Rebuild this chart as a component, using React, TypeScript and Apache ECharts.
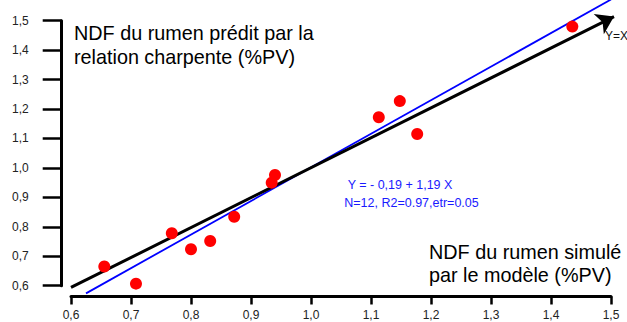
import React, { useEffect, useRef } from "react";
import * as echarts from "echarts";

const xSimulated = [0.6555, 0.7083, 0.768, 0.8, 0.832, 0.872, 0.9345, 0.94, 1.113, 1.148, 1.177, 1.4355];
const yPredicted = [0.665, 0.607, 0.778, 0.724, 0.752, 0.834, 0.95, 0.976, 1.172, 1.227, 1.115, 1.48];
const regressionX = [0.625, 1.5];
const regressionY = [0.574, 1.572];
const identityStart = [0.6, 0.594];
const identityEnd = [1.505, 1.514];
const axisMin = 0.6;
const axisMax = 1.5;
const axisStep = 0.1;
const titleLines = ["NDF du rumen prédit par la", "relation charpente (%PV)"];
const xTitleLines = ["NDF du rumen simulé", "par le modèle (%PV)"];
const equationText = "Y = - 0,19 + 1,19 X";
const statsText = "N=12, R2=0.97,etr=0.05";
const identityText = "Y=X";

const FONT = 'Arial, "Liberation Sans", sans-serif';

export default function App() {
  const ref = useRef<HTMLDivElement>(null);
  useEffect(() => {
    if (!ref.current) return;
    const chart = echarts.init(ref.current, undefined, { renderer: "svg" });
    const fmt = (v: number) => v.toFixed(1).replace(".", ",");
    chart.setOption({
      animation: false,
      backgroundColor: "#ffffff",
      grid: { left: 71, right: 16, top: 20.7, bottom: 36.3, containLabel: false },
      xAxis: {
        type: "value",
        min: axisMin,
        max: axisMax,
        interval: axisStep,
        offset: 10.8,
        axisLine: { show: true, lineStyle: { color: "#000", width: 3 } },
        axisTick: { show: true, length: 8, lineStyle: { color: "#000", width: 2.5 } },
        axisLabel: { margin: 12, color: "#222", fontSize: 12, fontFamily: FONT, formatter: fmt },
        splitLine: { show: false },
      },
      yAxis: {
        type: "value",
        min: axisMin,
        max: axisMax,
        interval: axisStep,
        offset: 9.3,
        axisLine: { show: true, lineStyle: { color: "#000", width: 3 } },
        axisTick: { show: true, length: 19, lineStyle: { color: "#000", width: 2.5 } },
        axisLabel: { margin: 33, color: "#222", fontSize: 12, fontFamily: FONT, formatter: fmt },
        splitLine: { show: false },
      },
      series: [
        {
          type: "line",
          data: regressionX.map((x, i) => [x, regressionY[i]]),
          symbol: "none",
          clip: false,
          lineStyle: { color: "#0000ff", width: 1.8 },
          z: 2,
        },
        {
          type: "lines",
          coordinateSystem: "cartesian2d",
          clip: false,
          silent: true,
          symbol: ["none", "arrow"],
          symbolSize: 17,
          lineStyle: { color: "#000", width: 3, opacity: 1, curveness: 0 },
          data: [{ coords: [identityStart, identityEnd] }],
          z: 3,
        },
        {
          type: "scatter",
          data: xSimulated.map((x, i) => [x, yPredicted[i]]),
          symbol: "circle",
          symbolSize: 12,
          clip: false,
          itemStyle: { color: "#ff0000", opacity: 1 },
          z: 4,
        },
      ],
      graphic: [
        {
          type: "text",
          x: 74,
          y: 45,
          style: {
            text: titleLines.join("\n"),
            font: `19.8px ${FONT}`,
            fill: "#000",
            lineHeight: 23.5,
            align: "left",
            verticalAlign: "middle",
          },
        },
        {
          type: "text",
          x: 429,
          y: 263.4,
          style: {
            text: xTitleLines.join("\n"),
            font: `19.8px ${FONT}`,
            fill: "#000",
            lineHeight: 23.3,
            align: "left",
            verticalAlign: "middle",
          },
        },
        {
          type: "text",
          x: 400,
          y: 185,
          style: { text: equationText, font: `12.5px ${FONT}`, fill: "#1a1aff", align: "center", verticalAlign: "middle" },
        },
        {
          type: "text",
          x: 411.5,
          y: 203,
          style: { text: statsText, font: `12.5px ${FONT}`, fill: "#1a1aff", align: "center", verticalAlign: "middle" },
        },
        {
          type: "text",
          x: 605,
          y: 36,
          style: { text: identityText, font: `12px ${FONT}`, fill: "#111", align: "left", verticalAlign: "middle" },
        },
      ],
    });
    return () => chart.dispose();
  }, []);
  return (
    <div
      ref={ref}
      style={{ position: "fixed", left: 0, top: 0, width: 627, height: 322, background: "#fff" }}
    />
  );
}
